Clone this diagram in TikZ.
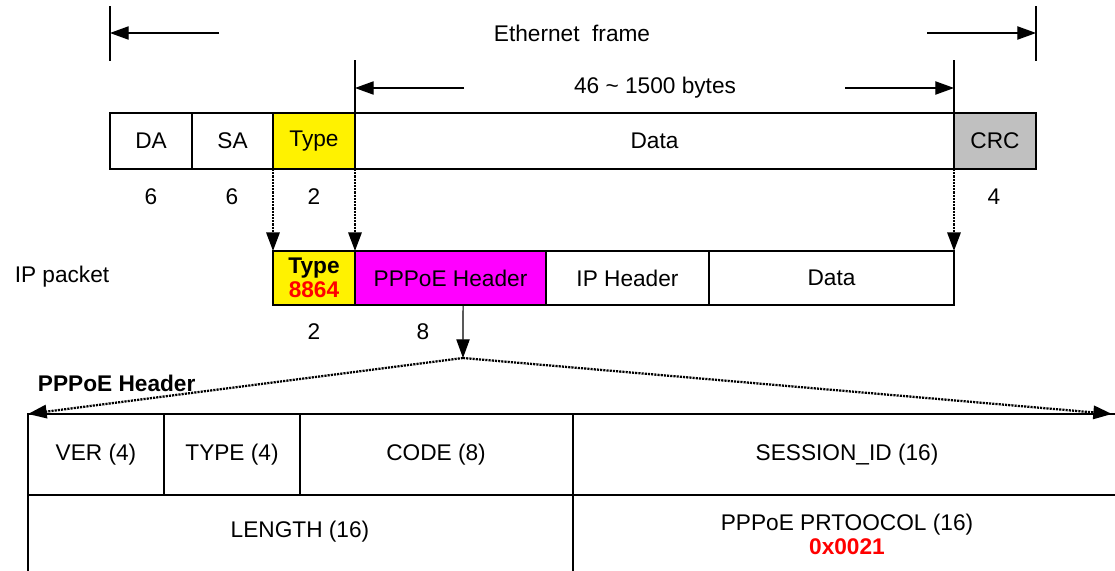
\documentclass[tikz,border=0pt]{standalone}
\usepackage{fontspec}
\setmainfont{Liberation Sans}
\usetikzlibrary{arrows.meta, positioning}
\definecolor{crcgray}{RGB}{192,192,192}
\definecolor{hdrmagenta}{RGB}{255,0,255}

\begin{document}
\begin{tikzpicture}[
    x=0.75pt, y=-0.75pt,
    line width=0.8pt,
    font=\fontsize{17}{18}\selectfont,
    cell/.style={rectangle, draw, minimum height=42pt, inner sep=0pt, outer sep=0pt, anchor=west},
    ipcell/.style={rectangle, draw, minimum height=40.5pt, inner sep=0pt, outer sep=0pt, anchor=west, align=center},
    arrow/.style={-{Triangle[length=14pt, width=10pt]}},
    dotarrow/.style={arrow, line width=1.7pt, dash pattern=on 1.6pt off 0.8pt},
    size/.style={inner sep=3pt}
]
\useasboundingbox (0,0) rectangle (1115,571);

% Ethernet frame
\node[cell, minimum width=61.5pt] (da) at (110,141) {DA};
\node[cell, minimum width=60.75pt, right=0pt of da] (sa) {SA};
\node[cell, minimum width=61.5pt, fill=yellow, right=0pt of sa] (type) {Type};
\node[cell, minimum width=449.25pt, right=0pt of type] (data) {Data};
\node[cell, minimum width=61.5pt, fill=crcgray, right=0pt of data] (crc) {CRC};

\node[size] (nda) at (151,197) {6};
\node[size] (nsa) at (232,197) {6};
\node[size] (ntype) at (314,197) {2};
\node[size] (ncrc) at (994,197) {4};

% dimension lines
\node (eth) at (572,33) {Ethernet\ \ frame};
\coordinate (ethL) at (110,33);
\coordinate (ethR) at (1036,33);
\coordinate (ethLt) at (219,33);
\coordinate (ethRt) at (927,33);
\draw (110,6) -- (110,61);
\draw (1036,6) -- (1036,61);
\draw[arrow] (ethLt) -- (ethL);
\draw[arrow] (ethRt) -- (ethR);

\node (pay) at (655,88) {46 \textasciitilde\ 1500 bytes};
\coordinate (payL) at (355,88);
\coordinate (payR) at (954,88);
\coordinate (payLt) at (464,88);
\coordinate (payRt) at (845,88);
\draw (355,60) -- (type.north east);
\draw (954,60) -- (crc.north west);
\draw[arrow] (payLt) -- (payL);
\draw[arrow] (payRt) -- (payR);

% IP packet
\node (iplabel) at (62,277) {IP packet};
\node[ipcell, minimum width=61.5pt, fill=yellow] (iptype) at (273,278)
    {\textbf{Type}\\\textcolor{red}{\textbf{8864}}};
\node[ipcell, minimum width=143.25pt, fill=hdrmagenta, right=0pt of iptype] (pppoe) {PPPoE Header};
\node[ipcell, minimum width=122.25pt, right=0pt of pppoe] (iphdr) {IP Header};
\node[ipcell, minimum width=183.75pt, right=0pt of iphdr] (ipdata) {Data};

\node[size] (niptype) at (314,332) {2};
\node[size] (npppoe) at (423,332) {8};

\draw[dotarrow] (type.south west) -- (iptype.north west);
\draw[dotarrow] (type.south east) -- (iptype.north east);
\draw[dotarrow] (crc.south west) -- (ipdata.north east);

% PPPoE header
\coordinate (fan) at (463,358);
\coordinate (tblNW) at (28,414);
\coordinate (tblNE) at (1112,414);
\draw[arrow] ([xshift=9.4pt]pppoe.south) -- (fan);
\draw[dotarrow] (fan) -- (tblNW);
\draw[dotarrow] (fan) -- (tblNE);
\node[anchor=west, font=\fontsize{17}{18}\selectfont\bfseries] (hdrlabel) at (33,383) {PPPoE Header};

\draw (28,571) -- (tblNW) -- (1115,414);
\draw (28,495) -- (1115,495);
\draw (164,414) -- (164,495);
\draw (300,414) -- (300,495);
\draw (573,414) -- (573,571);

\node (ver) at (96,455) {VER (4)};
\node (ptype) at (232,455) {TYPE (4)};
\node (code) at (436,455) {CODE (8)};
\node (sess) at (847,455) {SESSION\_ID (16)};
\node (len) at (300,532) {LENGTH (16)};
\node[align=center] (proto) at (847,534)
    {PPPoE PRTOOCOL (16)\\\textcolor{red}{\textbf{0x0021}}};
\end{tikzpicture}
\end{document}
